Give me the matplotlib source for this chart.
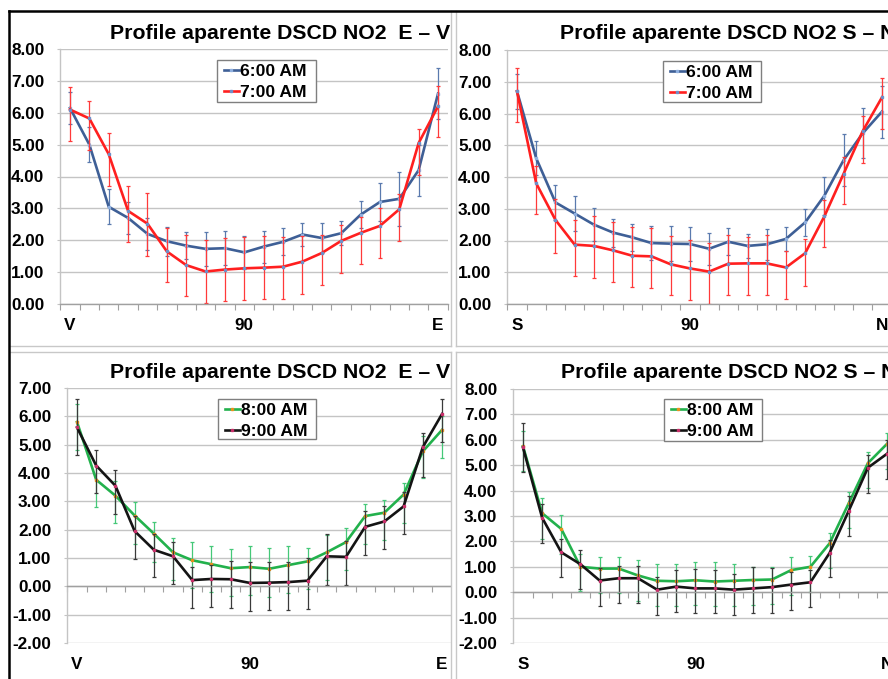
import matplotlib
matplotlib.use("Agg")
import matplotlib.pyplot as plt
from matplotlib.patches import Rectangle
from matplotlib.lines import Line2D
from matplotlib.transforms import Bbox, TransformedBbox

plt.rcParams['font.family'] = ['Liberation Sans', 'DejaVu Sans']
plt.rcParams['font.weight'] = 'bold'

# ---------------- data ----------------
labels_ev = ["V"] + [""] * 8 + ["90"] + [""] * 9 + ["E"]
labels_sn = ["S"] + [""] * 8 + ["90"] + [""] * 9 + ["N"]

# Panel 1: E-V, 6:00 / 7:00
ev_6 = [6.15, 5.00, 3.05, 2.70, 2.20, 1.97, 1.83, 1.73, 1.75, 1.62, 1.80, 1.95, 2.18, 2.07, 2.22, 2.80, 3.20, 3.30, 4.20, 6.60]
ev_6_err = [0.50, 0.55, 0.55, 0.50, 0.50, 0.45, 0.43, 0.54, 0.54, 0.52, 0.50, 0.42, 0.37, 0.47, 0.37, 0.43, 0.60, 0.85, 0.80, 0.80]
ev_7 = [6.10, 5.82, 4.70, 2.92, 2.52, 1.65, 1.22, 1.02, 1.08, 1.12, 1.14, 1.17, 1.33, 1.60, 1.98, 2.23, 2.45, 2.97, 5.05, 6.20]
ev_7_lo = [1.00, 1.00, 1.00, 0.97, 1.00, 0.95, 0.97, 1.00, 1.00, 0.98, 0.98, 1.00, 1.02, 1.00, 1.00, 0.98, 1.00, 1.00, 1.00, 0.97]
ev_7_hi = [0.70, 0.55, 0.65, 0.78, 0.95, 0.75, 0.95, 1.00, 1.00, 0.98, 0.98, 0.92, 0.80, 0.55, 0.50, 0.50, 0.55, 0.48, 0.43, 0.63]

# Panel 2: S-N, 6:00 / 7:00
sn_6 = [6.70, 4.59, 3.20, 2.85, 2.50, 2.25, 2.10, 1.92, 1.90, 1.89, 1.74, 1.96, 1.83, 1.88, 2.05, 2.57, 3.41, 4.53, 5.38, 6.06]
sn_6_err = [0.55, 0.53, 0.55, 0.54, 0.52, 0.44, 0.42, 0.54, 0.55, 0.54, 0.50, 0.42, 0.37, 0.48, 0.37, 0.43, 0.60, 0.82, 0.78, 0.82]
sn_7 = [6.70, 3.80, 2.65, 1.87, 1.83, 1.69, 1.52, 1.50, 1.25, 1.12, 1.02, 1.27, 1.28, 1.28, 1.15, 1.60, 2.76, 4.10, 5.45, 6.51]
sn_7_lo = [0.98, 0.98, 1.03, 1.00, 1.00, 1.00, 1.00, 1.00, 0.98, 1.00, 1.02, 1.00, 1.00, 1.00, 1.00, 1.02, 0.95, 0.95, 1.00, 1.00]
sn_7_hi = [0.72, 0.55, 0.65, 0.78, 0.95, 0.90, 0.90, 0.90, 0.90, 0.90, 0.90, 0.90, 0.82, 0.90, 0.53, 0.45, 0.50, 0.52, 0.47, 0.60]

# Panel 3: E-V, 8:00 / 9:00
ev_8 = [5.80, 3.76, 3.20, 2.50, 1.86, 1.20, 0.92, 0.78, 0.64, 0.68, 0.62, 0.75, 0.88, 1.20, 1.56, 2.48, 2.60, 3.24, 4.76, 5.52]
ev_8_lo = [1.00, 0.95, 0.98, 1.00, 1.00, 0.98, 0.99, 0.98, 0.99, 0.98, 0.98, 0.98, 0.98, 0.98, 0.98, 0.98, 0.98, 1.00, 0.95, 0.98]
ev_8_hi = [0.65, 0.50, 0.50, 0.47, 0.42, 0.50, 0.63, 0.65, 0.68, 0.75, 0.75, 0.68, 0.48, 0.60, 0.50, 0.42, 0.43, 0.40, 0.55, 0.50]
ev_9 = [5.61, 4.26, 3.55, 1.95, 1.29, 1.06, 0.22, 0.26, 0.25, 0.12, 0.13, 0.15, 0.20, 1.06, 1.04, 2.10, 2.29, 2.82, 4.91, 6.08]
ev_9_lo = [0.96, 0.97, 0.98, 0.97, 0.97, 0.98, 0.99, 1.00, 1.00, 0.98, 0.97, 0.97, 1.00, 1.00, 1.00, 0.98, 0.97, 0.97, 1.05, 0.98]
ev_9_hi = [0.99, 0.55, 0.55, 0.55, 0.55, 0.50, 0.46, 0.50, 0.65, 0.75, 0.72, 0.70, 0.80, 0.77, 0.55, 0.55, 0.55, 0.50, 0.50, 0.54]

# Panel 4: S-N, 8:00 / 9:00
sn_8 = [5.75, 3.11, 2.49, 1.00, 0.93, 0.93, 0.66, 0.45, 0.43, 0.47, 0.42, 0.45, 0.48, 0.50, 0.87, 1.00, 1.92, 3.50, 5.08, 5.84]
sn_8_lo = [0.98, 1.00, 0.98, 0.97, 0.98, 0.98, 1.00, 1.00, 0.98, 0.98, 0.98, 0.98, 0.98, 0.98, 0.98, 1.00, 0.98, 0.98, 0.98, 0.98]
sn_8_hi = [0.60, 0.60, 0.54, 0.50, 0.45, 0.47, 0.61, 0.67, 0.67, 0.73, 0.75, 0.67, 0.50, 0.50, 0.51, 0.43, 0.43, 0.45, 0.44, 0.43]
sn_9 = [5.70, 2.93, 1.57, 1.10, 0.46, 0.55, 0.55, 0.10, 0.22, 0.15, 0.15, 0.10, 0.15, 0.20, 0.30, 0.39, 1.54, 3.20, 4.90, 5.45]
sn_9_lo = [0.95, 1.00, 0.99, 0.98, 0.99, 0.98, 0.98, 0.98, 1.00, 0.98, 0.98, 1.00, 0.98, 1.00, 1.00, 0.99, 0.96, 0.98, 0.98, 0.98]
sn_9_hi = [0.98, 0.55, 0.53, 0.58, 0.50, 0.48, 0.48, 0.50, 0.66, 0.75, 0.73, 0.60, 0.83, 0.77, 0.50, 0.49, 0.51, 0.60, 0.52, 0.55]

title_ev = "Profile aparente DSCD NO2  E \u2013 V"
title_sn = "Profile aparente DSCD NO2 S \u2013 N"

# ---------------- styling ----------------
W, H = 888, 679
fig = plt.figure(figsize=(W / 100, H / 100), dpi=100)
fig.patch.set_facecolor('white')

def rect(l, t, r, b):
    return [l / W, 1 - b / H, (r - l) / W, (b - t) / H]

def fx(v):
    return v / W

def fy(v):
    return 1 - v / H

BLUE, RED, GREEN, BLACK = '#3E5F96', '#FF1F1F', '#22B14C', '#141414'
GRID = '#C4C4C4'
AXC = '#A0A0A0'

def make_panel(pos, ylim, labels, series, title, title_xy, legend_box, clip_right=None):
    ax = fig.add_axes(rect(*pos))
    ax.set_xlim(-0.5, len(labels) - 0.5)
    ax.set_ylim(*ylim)
    ax.set_yticks(range(ylim[0], ylim[1] + 1))
    ax.set_yticklabels([f"{v:.2f}" for v in range(ylim[0], ylim[1] + 1)],
                       fontsize=12.3, fontweight='bold')
    ax.yaxis.grid(True, color=GRID, lw=1.0)
    ax.set_axisbelow(True)
    ax.tick_params(axis='y', length=2.5, width=0.8, color=GRID, pad=9)
    for s in ('top', 'right'):
        ax.spines[s].set_visible(False)
    ax.spines['left'].set_color(GRID)
    ax.spines['left'].set_linewidth(1.0)
    ax.spines['bottom'].set_position(('data', 0))
    ax.spines['bottom'].set_color(AXC)
    ax.spines['bottom'].set_linewidth(1.0)
    ax.set_xticks([i - 0.5 for i in range(len(labels) + 1)])
    ax.set_xticklabels([])
    ax.tick_params(axis='x', length=4, width=0.8, color=AXC, direction='out')
    for i, lab in enumerate(labels):
        if lab:
            ax.annotate(lab, xy=(i, 0), xycoords=('data', 'axes fraction'),
                        xytext=(0, -21.5 * 0.72), textcoords='offset points',
                        ha='center', va='center', fontsize=12.3, fontweight='bold')
    x = list(range(len(labels)))
    handles = []
    for (y, lo, hi, col, ecol, mcol, name) in series:
        ax.errorbar(x, y, yerr=[lo, hi], fmt='none', ecolor=ecol, elinewidth=0.9,
                    capsize=1.6, capthick=0.9)
        h, = ax.plot(x, y, color=col, lw=1.9, marker='s', ms=1.8, mfc=mcol, mec=mcol,
                     label=name, solid_joinstyle='miter')
        handles.append(h)
    t = fig.text(title_xy[0] / W, 1 - title_xy[1] / H, title, ha='left', va='center',
                 fontsize=15.3, fontweight='bold')
    if clip_right is not None:
        t.set_clip_box(TransformedBbox(Bbox.from_extents(0, 0, clip_right / W, 1), fig.transFigure))
        t.set_clip_on(True)
    l, tp, r, b = legend_box
    fig.add_artist(Rectangle((fx(l), fy(b)), fx(r) - fx(l), fy(tp) - fy(b),
                             transform=fig.transFigure, facecolor='white',
                             edgecolor='#7F7F7F', lw=1.0, zorder=5))
    leg = ax.legend(handles=handles, loc='upper left',
                    bbox_to_anchor=(fx(l + 7), fy(tp + 4)), bbox_transform=fig.transFigure,
                    frameon=False, prop={'weight': 'bold', 'size': 12.6},
                    handlelength=0.85, handletextpad=0.05, borderpad=0.0,
                    labelspacing=0.33, borderaxespad=0)
    leg.set_zorder(6)
    leg.remove()
    fig.add_artist(leg)
    return ax

make_panel((60.3, 49, 447.7, 304), (0, 8), labels_ev,
           [(ev_6, ev_6_err, ev_6_err, BLUE, '#5A7AAE', '#8FB0E0', '6:00 AM'),
            (ev_7, ev_7_lo, ev_7_hi, RED, '#FF3A3A', '#6F8FC8', '7:00 AM')],
           title_ev, (110, 33.5), (217, 60, 316, 102), clip_right=451)
make_panel((507.4, 50, 891.6, 304), (0, 8), labels_sn,
           [(sn_6, sn_6_err, sn_6_err, BLUE, '#5A7AAE', '#8FB0E0', '6:00 AM'),
            (sn_7, sn_7_lo, sn_7_hi, RED, '#FF3A3A', '#6F8FC8', '7:00 AM')],
           title_sn, (560, 33.5), (663, 61, 761, 102))
make_panel((67.4, 388, 451.6, 643), (-2, 7), labels_ev,
           [(ev_8, ev_8_lo, ev_8_hi, GREEN, '#45C878', '#E8901E', '8:00 AM'),
            (ev_9, ev_9_lo, ev_9_hi, BLACK, '#3A3A3A', '#C8306A', '9:00 AM')],
           title_ev, (110, 372.5), (218, 399, 316, 439), clip_right=451)
make_panel((513.4, 389, 896.6, 643), (-2, 8), labels_sn,
           [(sn_8, sn_8_lo, sn_8_hi, GREEN, '#45C878', '#E8901E', '8:00 AM'),
            (sn_9, sn_9_lo, sn_9_hi, BLACK, '#3A3A3A', '#C8306A', '9:00 AM')],
           title_sn, (561, 372.5), (664, 399, 762, 441))

# ---------------- panel frames ----------------
fig.add_artist(Rectangle((fx(451.5), 0), fx(456) - fx(451.5), 1, transform=fig.transFigure,
                         facecolor='white', edgecolor='none', zorder=20))
fig.add_artist(Rectangle((0, fy(352)), 1, fy(346.5) - fy(352), transform=fig.transFigure,
                         facecolor='white', edgecolor='none', zorder=20))
FR = '#C8C8C8'
for (xs, ys) in [([451, 451], [11, 346]), ([456, 456], [11, 346]),
                 ([451, 451], [352, 679]), ([456, 456], [352, 679]),
                 ([10, 451], [346, 346]), ([456, 888], [346, 346]),
                 ([10, 451], [352, 352]), ([456, 888], [352, 352])]:
    fig.add_artist(Line2D([fx(v) for v in xs], [fy(v) for v in ys], color=FR, lw=1.0,
                          transform=fig.transFigure, zorder=21))
fig.add_artist(Line2D([fx(9), fx(888)], [fy(11), fy(11)], color='black', lw=1.8,
                      transform=fig.transFigure, zorder=22))
fig.add_artist(Line2D([fx(9), fx(9)], [fy(11), fy(679)], color='black', lw=1.8,
                      transform=fig.transFigure, zorder=22))

fig.savefig('out.png', dpi=100)
